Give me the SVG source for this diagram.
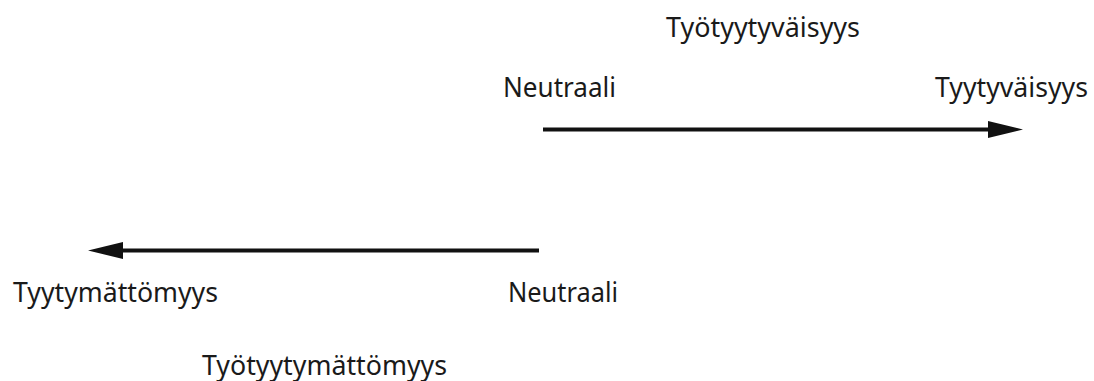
<svg xmlns="http://www.w3.org/2000/svg" width="1094" height="381" viewBox="0 0 1094 381">
<style>
text{font-family:"Noto Sans","Liberation Sans",sans-serif;font-size:27px;fill:#1a1a1a}
.ln{stroke:#111;stroke-width:4;fill:none}
.hd{fill:#111}
</style>
<rect width="1094" height="381" fill="#fff"/>
<g id="title-top"><text x="666" y="37" textLength="194" lengthAdjust="spacingAndGlyphs">Työtyytyväisyys</text></g>
<g id="neutral-top"><text x="503" y="97" textLength="113" lengthAdjust="spacingAndGlyphs">Neutraali</text></g>
<g id="satisfaction"><text x="935" y="97" textLength="153" lengthAdjust="spacingAndGlyphs">Tyytyväisyys</text></g>
<g id="dissatisfaction"><text x="13" y="302" textLength="205" lengthAdjust="spacingAndGlyphs">Tyytymättömyys</text></g>
<g id="neutral-bottom"><text x="508" y="302" textLength="110" lengthAdjust="spacingAndGlyphs">Neutraali</text></g>
<g id="title-bottom"><text x="202" y="375" textLength="245" lengthAdjust="spacingAndGlyphs">Työtyytymättömyys</text></g>
<g id="connectors">
<line class="ln" x1="543" y1="129.5" x2="990" y2="129.5"/>
<polygon class="hd" points="988,121 1023,129.5 988,138"/>
<line class="ln" x1="539" y1="250.5" x2="121" y2="250.5"/>
<polygon class="hd" points="123,242 88,250.5 123,259"/>
</g>
</svg>
